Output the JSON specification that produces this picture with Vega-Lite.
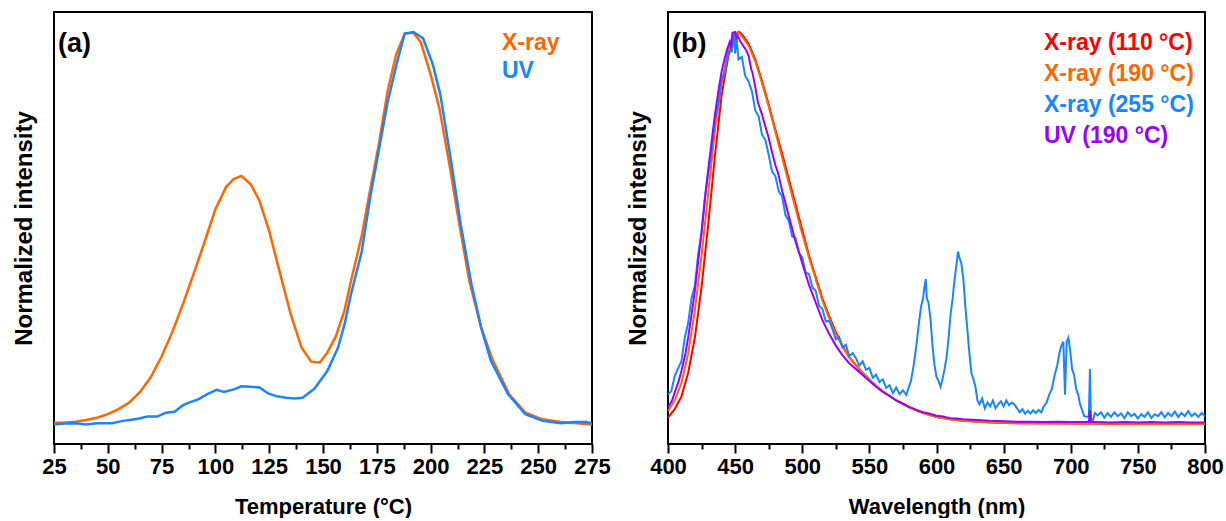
{
"$schema": "https://vega.github.io/schema/vega-lite/v6.json",
"padding": {"left": 11, "top": 11, "right": 5, "bottom": 0},
"config": {
  "font": "Liberation Sans",
  "view": {"stroke": "#000000", "strokeWidth": 2},
  "axis": {"grid": false, "domain": false, "labelFont": "Liberation Sans", "labelFontSize": 22, "labelFontWeight": "bold", "labelColor": "#000000", "titleFont": "Liberation Sans", "titleFontSize": 22, "titleFontWeight": "bold", "titleColor": "#000000", "tickColor": "#000000", "tickWidth": 2},
  "axisY": {"titleFontSize": 24},
  "legend": {"labelFont": "Liberation Sans", "labelFontSize": 23, "labelFontWeight": "bold", "symbolOpacity": 0, "symbolSize": 0, "symbolStrokeWidth": 0, "labelOffset": 0, "title": null}
},
"datasets": {
  "tl": [
    {"s":"X-ray","T":25,"v":0.003},{"s":"X-ray","T":30,"v":0.004},{"s":"X-ray","T":35,"v":0.006},{"s":"X-ray","T":40,"v":0.01},{"s":"X-ray","T":45,"v":0.016},{"s":"X-ray","T":50,"v":0.025},{"s":"X-ray","T":55,"v":0.038},{"s":"X-ray","T":60,"v":0.055},{"s":"X-ray","T":65,"v":0.082},{"s":"X-ray","T":70,"v":0.12},{"s":"X-ray","T":75,"v":0.172},{"s":"X-ray","T":80,"v":0.235},{"s":"X-ray","T":85,"v":0.307},{"s":"X-ray","T":90,"v":0.385},{"s":"X-ray","T":95,"v":0.465},{"s":"X-ray","T":100,"v":0.548},{"s":"X-ray","T":105,"v":0.605},{"s":"X-ray","T":108.5,"v":0.625},{"s":"X-ray","T":112,"v":0.633},{"s":"X-ray","T":116.5,"v":0.611},{"s":"X-ray","T":120.5,"v":0.569},{"s":"X-ray","T":125,"v":0.492},{"s":"X-ray","T":130,"v":0.385},{"s":"X-ray","T":135,"v":0.28},{"s":"X-ray","T":140,"v":0.195},{"s":"X-ray","T":144.5,"v":0.159},{"s":"X-ray","T":148.5,"v":0.157},{"s":"X-ray","T":152,"v":0.182},{"s":"X-ray","T":156,"v":0.224},{"s":"X-ray","T":160,"v":0.29},{"s":"X-ray","T":163,"v":0.365},{"s":"X-ray","T":168,"v":0.48},{"s":"X-ray","T":172,"v":0.6},{"s":"X-ray","T":176,"v":0.715},{"s":"X-ray","T":180,"v":0.849},{"s":"X-ray","T":184,"v":0.943},{"s":"X-ray","T":188,"v":0.996},{"s":"X-ray","T":192,"v":0.998},{"s":"X-ray","T":195.5,"v":0.973},{"s":"X-ray","T":200,"v":0.892},{"s":"X-ray","T":204,"v":0.807},{"s":"X-ray","T":208.5,"v":0.67},{"s":"X-ray","T":213,"v":0.52},{"s":"X-ray","T":218,"v":0.365},{"s":"X-ray","T":223.5,"v":0.246},{"s":"X-ray","T":229,"v":0.161},{"s":"X-ray","T":236.5,"v":0.076},{"s":"X-ray","T":244,"v":0.029},{"s":"X-ray","T":252,"v":0.012},{"s":"X-ray","T":260.5,"v":0.005},{"s":"X-ray","T":268,"v":0.002},{"s":"X-ray","T":275,"v":-0.001},
    {"s":"UV","T":25,"v":-0.001},{"s":"UV","T":30,"v":0.001},{"s":"UV","T":35,"v":0.002},{"s":"UV","T":40,"v":-0.001},{"s":"UV","T":45,"v":0.002},{"s":"UV","T":52,"v":0.002},{"s":"UV","T":57,"v":0.008},{"s":"UV","T":61,"v":0.011},{"s":"UV","T":64.5,"v":0.014},{"s":"UV","T":68.5,"v":0.019},{"s":"UV","T":73,"v":0.019},{"s":"UV","T":77,"v":0.029},{"s":"UV","T":81,"v":0.031},{"s":"UV","T":85,"v":0.048},{"s":"UV","T":88,"v":0.055},{"s":"UV","T":92,"v":0.063},{"s":"UV","T":96.5,"v":0.077},{"s":"UV","T":100.5,"v":0.087},{"s":"UV","T":104,"v":0.082},{"s":"UV","T":109,"v":0.089},{"s":"UV","T":112,"v":0.096},{"s":"UV","T":116,"v":0.095},{"s":"UV","T":120.5,"v":0.093},{"s":"UV","T":124.5,"v":0.078},{"s":"UV","T":129,"v":0.07},{"s":"UV","T":133,"v":0.067},{"s":"UV","T":137,"v":0.065},{"s":"UV","T":140.5,"v":0.067},{"s":"UV","T":146,"v":0.09},{"s":"UV","T":152,"v":0.135},{"s":"UV","T":157,"v":0.195},{"s":"UV","T":160,"v":0.254},{"s":"UV","T":163,"v":0.331},{"s":"UV","T":168,"v":0.44},{"s":"UV","T":172,"v":0.58},{"s":"UV","T":176,"v":0.7},{"s":"UV","T":180,"v":0.82},{"s":"UV","T":184.5,"v":0.925},{"s":"UV","T":188,"v":0.996},{"s":"UV","T":192,"v":1.0},{"s":"UV","T":196.5,"v":0.984},{"s":"UV","T":201,"v":0.918},{"s":"UV","T":204.5,"v":0.841},{"s":"UV","T":209.5,"v":0.671},{"s":"UV","T":214,"v":0.509},{"s":"UV","T":219,"v":0.356},{"s":"UV","T":223.5,"v":0.246},{"s":"UV","T":228,"v":0.161},{"s":"UV","T":236,"v":0.076},{"s":"UV","T":244,"v":0.025},{"s":"UV","T":252,"v":0.008},{"s":"UV","T":260.5,"v":0.002},{"s":"UV","T":267,"v":0.005},{"s":"UV","T":272.5,"v":0.005},{"s":"UV","T":275,"v":0.001}
  ],
  "pl": [
    {"s":"X-ray (110 °C)","w":400,"v":0.016},{"s":"X-ray (110 °C)","w":405,"v":0.038},{"s":"X-ray (110 °C)","w":410,"v":0.07},{"s":"X-ray (110 °C)","w":415,"v":0.13},{"s":"X-ray (110 °C)","w":420,"v":0.22},{"s":"X-ray (110 °C)","w":425,"v":0.35},{"s":"X-ray (110 °C)","w":430,"v":0.51},{"s":"X-ray (110 °C)","w":435,"v":0.685},{"s":"X-ray (110 °C)","w":440,"v":0.84},{"s":"X-ray (110 °C)","w":445,"v":0.94},{"s":"X-ray (110 °C)","w":450,"v":0.99},{"s":"X-ray (110 °C)","w":453,"v":1.0},{"s":"X-ray (110 °C)","w":456,"v":0.99},{"s":"X-ray (110 °C)","w":460,"v":0.97},{"s":"X-ray (110 °C)","w":465,"v":0.93},{"s":"X-ray (110 °C)","w":470,"v":0.875},{"s":"X-ray (110 °C)","w":475,"v":0.815},{"s":"X-ray (110 °C)","w":480,"v":0.75},{"s":"X-ray (110 °C)","w":485,"v":0.69},{"s":"X-ray (110 °C)","w":490,"v":0.625},{"s":"X-ray (110 °C)","w":495,"v":0.56},{"s":"X-ray (110 °C)","w":500,"v":0.495},{"s":"X-ray (110 °C)","w":505,"v":0.43},{"s":"X-ray (110 °C)","w":510,"v":0.375},{"s":"X-ray (110 °C)","w":515,"v":0.32},{"s":"X-ray (110 °C)","w":520,"v":0.275},{"s":"X-ray (110 °C)","w":525,"v":0.235},{"s":"X-ray (110 °C)","w":530,"v":0.2},{"s":"X-ray (110 °C)","w":535,"v":0.17},{"s":"X-ray (110 °C)","w":540,"v":0.15},{"s":"X-ray (110 °C)","w":545,"v":0.13},{"s":"X-ray (110 °C)","w":550,"v":0.113},{"s":"X-ray (110 °C)","w":555,"v":0.097},{"s":"X-ray (110 °C)","w":560,"v":0.083},{"s":"X-ray (110 °C)","w":570,"v":0.06},{"s":"X-ray (110 °C)","w":580,"v":0.042},{"s":"X-ray (110 °C)","w":590,"v":0.028},{"s":"X-ray (110 °C)","w":600,"v":0.018},{"s":"X-ray (110 °C)","w":610,"v":0.012},{"s":"X-ray (110 °C)","w":620,"v":0.008},{"s":"X-ray (110 °C)","w":640,"v":0.004},{"s":"X-ray (110 °C)","w":660,"v":0.002},{"s":"X-ray (110 °C)","w":700,"v":0.001},{"s":"X-ray (110 °C)","w":750,"v":0},{"s":"X-ray (110 °C)","w":800,"v":0},
    {"s":"X-ray (190 °C)","w":400,"v":0.033},{"s":"X-ray (190 °C)","w":405,"v":0.06},{"s":"X-ray (190 °C)","w":410,"v":0.105},{"s":"X-ray (190 °C)","w":415,"v":0.18},{"s":"X-ray (190 °C)","w":420,"v":0.29},{"s":"X-ray (190 °C)","w":425,"v":0.43},{"s":"X-ray (190 °C)","w":430,"v":0.59},{"s":"X-ray (190 °C)","w":435,"v":0.75},{"s":"X-ray (190 °C)","w":440,"v":0.87},{"s":"X-ray (190 °C)","w":445,"v":0.955},{"s":"X-ray (190 °C)","w":450,"v":0.995},{"s":"X-ray (190 °C)","w":452,"v":1.0},{"s":"X-ray (190 °C)","w":456,"v":0.985},{"s":"X-ray (190 °C)","w":460,"v":0.965},{"s":"X-ray (190 °C)","w":465,"v":0.925},{"s":"X-ray (190 °C)","w":470,"v":0.87},{"s":"X-ray (190 °C)","w":475,"v":0.81},{"s":"X-ray (190 °C)","w":480,"v":0.745},{"s":"X-ray (190 °C)","w":485,"v":0.68},{"s":"X-ray (190 °C)","w":490,"v":0.615},{"s":"X-ray (190 °C)","w":495,"v":0.55},{"s":"X-ray (190 °C)","w":500,"v":0.485},{"s":"X-ray (190 °C)","w":505,"v":0.425},{"s":"X-ray (190 °C)","w":510,"v":0.37},{"s":"X-ray (190 °C)","w":515,"v":0.315},{"s":"X-ray (190 °C)","w":520,"v":0.27},{"s":"X-ray (190 °C)","w":525,"v":0.23},{"s":"X-ray (190 °C)","w":530,"v":0.197},{"s":"X-ray (190 °C)","w":535,"v":0.17},{"s":"X-ray (190 °C)","w":540,"v":0.15},{"s":"X-ray (190 °C)","w":545,"v":0.13},{"s":"X-ray (190 °C)","w":550,"v":0.113},{"s":"X-ray (190 °C)","w":555,"v":0.097},{"s":"X-ray (190 °C)","w":560,"v":0.083},{"s":"X-ray (190 °C)","w":570,"v":0.06},{"s":"X-ray (190 °C)","w":580,"v":0.042},{"s":"X-ray (190 °C)","w":590,"v":0.028},{"s":"X-ray (190 °C)","w":600,"v":0.018},{"s":"X-ray (190 °C)","w":610,"v":0.012},{"s":"X-ray (190 °C)","w":620,"v":0.008},{"s":"X-ray (190 °C)","w":640,"v":0.004},{"s":"X-ray (190 °C)","w":660,"v":0.002},{"s":"X-ray (190 °C)","w":700,"v":0.001},{"s":"X-ray (190 °C)","w":750,"v":0},{"s":"X-ray (190 °C)","w":800,"v":0},
    {"s":"X-ray (255 °C)","w":400,"v":0.075},{"s":"X-ray (255 °C)","w":402.5,"v":0.084},{"s":"X-ray (255 °C)","w":405,"v":0.122},{"s":"X-ray (255 °C)","w":407.5,"v":0.142},{"s":"X-ray (255 °C)","w":410,"v":0.16},{"s":"X-ray (255 °C)","w":412.5,"v":0.221},{"s":"X-ray (255 °C)","w":415,"v":0.257},{"s":"X-ray (255 °C)","w":417.5,"v":0.321},{"s":"X-ray (255 °C)","w":420,"v":0.352},{"s":"X-ray (255 °C)","w":422.5,"v":0.434},{"s":"X-ray (255 °C)","w":425,"v":0.488},{"s":"X-ray (255 °C)","w":427.5,"v":0.577},{"s":"X-ray (255 °C)","w":430,"v":0.641},{"s":"X-ray (255 °C)","w":432.5,"v":0.696},{"s":"X-ray (255 °C)","w":435,"v":0.78},{"s":"X-ray (255 °C)","w":437.5,"v":0.815},{"s":"X-ray (255 °C)","w":440,"v":0.878},{"s":"X-ray (255 °C)","w":442.5,"v":0.899},{"s":"X-ray (255 °C)","w":445,"v":0.952},{"s":"X-ray (255 °C)","w":447.5,"v":0.95},{"s":"X-ray (255 °C)","w":449,"v":1.0},{"s":"X-ray (255 °C)","w":450,"v":0.945},{"s":"X-ray (255 °C)","w":451,"v":0.99},{"s":"X-ray (255 °C)","w":452.5,"v":0.93},{"s":"X-ray (255 °C)","w":455,"v":0.936},{"s":"X-ray (255 °C)","w":457.5,"v":0.888},{"s":"X-ray (255 °C)","w":460,"v":0.874},{"s":"X-ray (255 °C)","w":462.5,"v":0.849},{"s":"X-ray (255 °C)","w":465,"v":0.8},{"s":"X-ray (255 °C)","w":467.5,"v":0.785},{"s":"X-ray (255 °C)","w":470,"v":0.738},{"s":"X-ray (255 °C)","w":472.5,"v":0.725},{"s":"X-ray (255 °C)","w":475,"v":0.687},{"s":"X-ray (255 °C)","w":477.5,"v":0.644},{"s":"X-ray (255 °C)","w":480,"v":0.632},{"s":"X-ray (255 °C)","w":482.5,"v":0.593},{"s":"X-ray (255 °C)","w":485,"v":0.581},{"s":"X-ray (255 °C)","w":487.5,"v":0.533},{"s":"X-ray (255 °C)","w":490,"v":0.518},{"s":"X-ray (255 °C)","w":492.5,"v":0.478},{"s":"X-ray (255 °C)","w":495,"v":0.474},{"s":"X-ray (255 °C)","w":497.5,"v":0.436},{"s":"X-ray (255 °C)","w":500,"v":0.425},{"s":"X-ray (255 °C)","w":502.5,"v":0.386},{"s":"X-ray (255 °C)","w":505,"v":0.383},{"s":"X-ray (255 °C)","w":507.5,"v":0.349},{"s":"X-ray (255 °C)","w":510,"v":0.34},{"s":"X-ray (255 °C)","w":512.5,"v":0.302},{"s":"X-ray (255 °C)","w":515,"v":0.294},{"s":"X-ray (255 °C)","w":517.5,"v":0.262},{"s":"X-ray (255 °C)","w":520,"v":0.263},{"s":"X-ray (255 °C)","w":522.5,"v":0.242},{"s":"X-ray (255 °C)","w":525,"v":0.216},{"s":"X-ray (255 °C)","w":527.5,"v":0.222},{"s":"X-ray (255 °C)","w":530,"v":0.195},{"s":"X-ray (255 °C)","w":532.5,"v":0.202},{"s":"X-ray (255 °C)","w":535,"v":0.173},{"s":"X-ray (255 °C)","w":537.5,"v":0.181},{"s":"X-ray (255 °C)","w":540,"v":0.168},{"s":"X-ray (255 °C)","w":542.5,"v":0.149},{"s":"X-ray (255 °C)","w":545,"v":0.16},{"s":"X-ray (255 °C)","w":547.5,"v":0.138},{"s":"X-ray (255 °C)","w":550,"v":0.143},{"s":"X-ray (255 °C)","w":552.5,"v":0.118},{"s":"X-ray (255 °C)","w":555,"v":0.126},{"s":"X-ray (255 °C)","w":557.5,"v":0.107},{"s":"X-ray (255 °C)","w":560,"v":0.114},{"s":"X-ray (255 °C)","w":562.5,"v":0.092},{"s":"X-ray (255 °C)","w":565,"v":0.099},{"s":"X-ray (255 °C)","w":567.5,"v":0.079},{"s":"X-ray (255 °C)","w":570,"v":0.093},{"s":"X-ray (255 °C)","w":572.5,"v":0.076},{"s":"X-ray (255 °C)","w":575,"v":0.086},{"s":"X-ray (255 °C)","w":577.5,"v":0.074},{"s":"X-ray (255 °C)","w":579,"v":0.09},{"s":"X-ray (255 °C)","w":581,"v":0.11},{"s":"X-ray (255 °C)","w":583,"v":0.15},{"s":"X-ray (255 °C)","w":585,"v":0.2},{"s":"X-ray (255 °C)","w":587,"v":0.26},{"s":"X-ray (255 °C)","w":588.5,"v":0.3},{"s":"X-ray (255 °C)","w":590,"v":0.32},{"s":"X-ray (255 °C)","w":591,"v":0.35},{"s":"X-ray (255 °C)","w":592,"v":0.37},{"s":"X-ray (255 °C)","w":592.8,"v":0.32},{"s":"X-ray (255 °C)","w":594,"v":0.31},{"s":"X-ray (255 °C)","w":595.5,"v":0.27},{"s":"X-ray (255 °C)","w":597,"v":0.2},{"s":"X-ray (255 °C)","w":598.5,"v":0.15},{"s":"X-ray (255 °C)","w":600,"v":0.12},{"s":"X-ray (255 °C)","w":601.5,"v":0.11},{"s":"X-ray (255 °C)","w":603,"v":0.095},{"s":"X-ray (255 °C)","w":604.5,"v":0.115},{"s":"X-ray (255 °C)","w":606,"v":0.14},{"s":"X-ray (255 °C)","w":607.5,"v":0.17},{"s":"X-ray (255 °C)","w":609,"v":0.22},{"s":"X-ray (255 °C)","w":610.5,"v":0.28},{"s":"X-ray (255 °C)","w":612,"v":0.32},{"s":"X-ray (255 °C)","w":613.5,"v":0.37},{"s":"X-ray (255 °C)","w":615,"v":0.41},{"s":"X-ray (255 °C)","w":616,"v":0.44},{"s":"X-ray (255 °C)","w":617,"v":0.425},{"s":"X-ray (255 °C)","w":618.5,"v":0.41},{"s":"X-ray (255 °C)","w":620,"v":0.37},{"s":"X-ray (255 °C)","w":621.5,"v":0.3},{"s":"X-ray (255 °C)","w":623,"v":0.24},{"s":"X-ray (255 °C)","w":624.5,"v":0.18},{"s":"X-ray (255 °C)","w":626,"v":0.13},{"s":"X-ray (255 °C)","w":627.5,"v":0.115},{"s":"X-ray (255 °C)","w":629,"v":0.095},{"s":"X-ray (255 °C)","w":630.5,"v":0.06},{"s":"X-ray (255 °C)","w":632,"v":0.05},{"s":"X-ray (255 °C)","w":634,"v":0.065},{"s":"X-ray (255 °C)","w":636,"v":0.04},{"s":"X-ray (255 °C)","w":638,"v":0.055},{"s":"X-ray (255 °C)","w":640,"v":0.045},{"s":"X-ray (255 °C)","w":642,"v":0.06},{"s":"X-ray (255 °C)","w":644,"v":0.04},{"s":"X-ray (255 °C)","w":646,"v":0.05},{"s":"X-ray (255 °C)","w":648,"v":0.058},{"s":"X-ray (255 °C)","w":650,"v":0.045},{"s":"X-ray (255 °C)","w":652,"v":0.06},{"s":"X-ray (255 °C)","w":654,"v":0.048},{"s":"X-ray (255 °C)","w":656,"v":0.055},{"s":"X-ray (255 °C)","w":658,"v":0.05},{"s":"X-ray (255 °C)","w":660,"v":0.04},{"s":"X-ray (255 °C)","w":662,"v":0.03},{"s":"X-ray (255 °C)","w":664,"v":0.038},{"s":"X-ray (255 °C)","w":666,"v":0.026},{"s":"X-ray (255 °C)","w":668,"v":0.034},{"s":"X-ray (255 °C)","w":670,"v":0.027},{"s":"X-ray (255 °C)","w":672,"v":0.035},{"s":"X-ray (255 °C)","w":674,"v":0.028},{"s":"X-ray (255 °C)","w":676,"v":0.036},{"s":"X-ray (255 °C)","w":678,"v":0.03},{"s":"X-ray (255 °C)","w":680,"v":0.045},{"s":"X-ray (255 °C)","w":682,"v":0.055},{"s":"X-ray (255 °C)","w":684,"v":0.075},{"s":"X-ray (255 °C)","w":686,"v":0.09},{"s":"X-ray (255 °C)","w":688,"v":0.125},{"s":"X-ray (255 °C)","w":690,"v":0.15},{"s":"X-ray (255 °C)","w":691.5,"v":0.18},{"s":"X-ray (255 °C)","w":693,"v":0.2},{"s":"X-ray (255 °C)","w":694.5,"v":0.21},{"s":"X-ray (255 °C)","w":695.7,"v":0.075},{"s":"X-ray (255 °C)","w":697,"v":0.21},{"s":"X-ray (255 °C)","w":698.2,"v":0.22},{"s":"X-ray (255 °C)","w":699.5,"v":0.19},{"s":"X-ray (255 °C)","w":701,"v":0.14},{"s":"X-ray (255 °C)","w":702.5,"v":0.125},{"s":"X-ray (255 °C)","w":704,"v":0.09},{"s":"X-ray (255 °C)","w":705.5,"v":0.075},{"s":"X-ray (255 °C)","w":707,"v":0.05},{"s":"X-ray (255 °C)","w":708.5,"v":0.035},{"s":"X-ray (255 °C)","w":710,"v":0.02},{"s":"X-ray (255 °C)","w":712,"v":0.018},{"s":"X-ray (255 °C)","w":713.5,"v":0.02},{"s":"X-ray (255 °C)","w":714.3,"v":0.14},{"s":"X-ray (255 °C)","w":715,"v":0.012},{"s":"X-ray (255 °C)","w":716.5,"v":0.01},{"s":"X-ray (255 °C)","w":718,"v":0.028},{"s":"X-ray (255 °C)","w":720,"v":0.022},{"s":"X-ray (255 °C)","w":722.5,"v":0.03},{"s":"X-ray (255 °C)","w":725,"v":0.016},{"s":"X-ray (255 °C)","w":727.5,"v":0.028},{"s":"X-ray (255 °C)","w":730,"v":0.018},{"s":"X-ray (255 °C)","w":732.5,"v":0.03},{"s":"X-ray (255 °C)","w":735,"v":0.02},{"s":"X-ray (255 °C)","w":737.5,"v":0.027},{"s":"X-ray (255 °C)","w":740,"v":0.015},{"s":"X-ray (255 °C)","w":742.5,"v":0.03},{"s":"X-ray (255 °C)","w":745,"v":0.02},{"s":"X-ray (255 °C)","w":747.5,"v":0.026},{"s":"X-ray (255 °C)","w":750,"v":0.014},{"s":"X-ray (255 °C)","w":752.5,"v":0.025},{"s":"X-ray (255 °C)","w":755,"v":0.018},{"s":"X-ray (255 °C)","w":757.5,"v":0.03},{"s":"X-ray (255 °C)","w":760,"v":0.015},{"s":"X-ray (255 °C)","w":762.5,"v":0.025},{"s":"X-ray (255 °C)","w":765,"v":0.02},{"s":"X-ray (255 °C)","w":767.5,"v":0.03},{"s":"X-ray (255 °C)","w":770,"v":0.017},{"s":"X-ray (255 °C)","w":772.5,"v":0.028},{"s":"X-ray (255 °C)","w":775,"v":0.02},{"s":"X-ray (255 °C)","w":777.5,"v":0.032},{"s":"X-ray (255 °C)","w":780,"v":0.018},{"s":"X-ray (255 °C)","w":782.5,"v":0.028},{"s":"X-ray (255 °C)","w":785,"v":0.02},{"s":"X-ray (255 °C)","w":787.5,"v":0.033},{"s":"X-ray (255 °C)","w":790,"v":0.02},{"s":"X-ray (255 °C)","w":792.5,"v":0.027},{"s":"X-ray (255 °C)","w":795,"v":0.018},{"s":"X-ray (255 °C)","w":797.5,"v":0.028},{"s":"X-ray (255 °C)","w":800,"v":0.02},
    {"s":"UV (190 °C)","w":400,"v":0.042},{"s":"UV (190 °C)","w":403,"v":0.06},{"s":"UV (190 °C)","w":405,"v":0.08},{"s":"UV (190 °C)","w":408,"v":0.11},{"s":"UV (190 °C)","w":410,"v":0.135},{"s":"UV (190 °C)","w":413,"v":0.18},{"s":"UV (190 °C)","w":415,"v":0.22},{"s":"UV (190 °C)","w":418,"v":0.29},{"s":"UV (190 °C)","w":420,"v":0.34},{"s":"UV (190 °C)","w":423,"v":0.43},{"s":"UV (190 °C)","w":425,"v":0.49},{"s":"UV (190 °C)","w":428,"v":0.59},{"s":"UV (190 °C)","w":430,"v":0.65},{"s":"UV (190 °C)","w":433,"v":0.735},{"s":"UV (190 °C)","w":435,"v":0.79},{"s":"UV (190 °C)","w":438,"v":0.86},{"s":"UV (190 °C)","w":440,"v":0.9},{"s":"UV (190 °C)","w":442,"v":0.93},{"s":"UV (190 °C)","w":444,"v":0.955},{"s":"UV (190 °C)","w":446,"v":0.975},{"s":"UV (190 °C)","w":447,"v":0.96},{"s":"UV (190 °C)","w":448,"v":0.998},{"s":"UV (190 °C)","w":450,"v":1.0},{"s":"UV (190 °C)","w":451,"v":0.985},{"s":"UV (190 °C)","w":452,"v":0.99},{"s":"UV (190 °C)","w":454,"v":0.975},{"s":"UV (190 °C)","w":456,"v":0.965},{"s":"UV (190 °C)","w":458,"v":0.955},{"s":"UV (190 °C)","w":460,"v":0.94},{"s":"UV (190 °C)","w":462,"v":0.905},{"s":"UV (190 °C)","w":463,"v":0.895},{"s":"UV (190 °C)","w":465,"v":0.86},{"s":"UV (190 °C)","w":467,"v":0.82},{"s":"UV (190 °C)","w":470,"v":0.79},{"s":"UV (190 °C)","w":472,"v":0.765},{"s":"UV (190 °C)","w":475,"v":0.73},{"s":"UV (190 °C)","w":477,"v":0.7},{"s":"UV (190 °C)","w":480,"v":0.66},{"s":"UV (190 °C)","w":482,"v":0.64},{"s":"UV (190 °C)","w":485,"v":0.595},{"s":"UV (190 °C)","w":487,"v":0.57},{"s":"UV (190 °C)","w":490,"v":0.53},{"s":"UV (190 °C)","w":492,"v":0.505},{"s":"UV (190 °C)","w":495,"v":0.465},{"s":"UV (190 °C)","w":497,"v":0.445},{"s":"UV (190 °C)","w":500,"v":0.41},{"s":"UV (190 °C)","w":505,"v":0.355},{"s":"UV (190 °C)","w":510,"v":0.31},{"s":"UV (190 °C)","w":515,"v":0.265},{"s":"UV (190 °C)","w":520,"v":0.23},{"s":"UV (190 °C)","w":525,"v":0.2},{"s":"UV (190 °C)","w":530,"v":0.175},{"s":"UV (190 °C)","w":535,"v":0.155},{"s":"UV (190 °C)","w":540,"v":0.14},{"s":"UV (190 °C)","w":545,"v":0.125},{"s":"UV (190 °C)","w":550,"v":0.11},{"s":"UV (190 °C)","w":555,"v":0.095},{"s":"UV (190 °C)","w":560,"v":0.082},{"s":"UV (190 °C)","w":565,"v":0.072},{"s":"UV (190 °C)","w":570,"v":0.06},{"s":"UV (190 °C)","w":575,"v":0.052},{"s":"UV (190 °C)","w":580,"v":0.043},{"s":"UV (190 °C)","w":585,"v":0.036},{"s":"UV (190 °C)","w":590,"v":0.03},{"s":"UV (190 °C)","w":595,"v":0.026},{"s":"UV (190 °C)","w":600,"v":0.021},{"s":"UV (190 °C)","w":605,"v":0.019},{"s":"UV (190 °C)","w":610,"v":0.015},{"s":"UV (190 °C)","w":615,"v":0.014},{"s":"UV (190 °C)","w":620,"v":0.012},{"s":"UV (190 °C)","w":630,"v":0.01},{"s":"UV (190 °C)","w":640,"v":0.008},{"s":"UV (190 °C)","w":650,"v":0.007},{"s":"UV (190 °C)","w":660,"v":0.006},{"s":"UV (190 °C)","w":670,"v":0.006},{"s":"UV (190 °C)","w":680,"v":0.005},{"s":"UV (190 °C)","w":690,"v":0.006},{"s":"UV (190 °C)","w":700,"v":0.005},{"s":"UV (190 °C)","w":710,"v":0.005},{"s":"UV (190 °C)","w":713.5,"v":0.005},{"s":"UV (190 °C)","w":714.3,"v":0.035},{"s":"UV (190 °C)","w":715,"v":0.005},{"s":"UV (190 °C)","w":720,"v":0.005},{"s":"UV (190 °C)","w":730,"v":0.004},{"s":"UV (190 °C)","w":740,"v":0.005},{"s":"UV (190 °C)","w":750,"v":0.004},{"s":"UV (190 °C)","w":760,"v":0.005},{"s":"UV (190 °C)","w":770,"v":0.004},{"s":"UV (190 °C)","w":780,"v":0.005},{"s":"UV (190 °C)","w":790,"v":0.004},{"s":"UV (190 °C)","w":800,"v":0.004}
  ]
},
"hconcat": [
  {
    "width": 538, "height": 432,
    "data": {"name": "tl"},
    "title": {"text": "(a)", "anchor": "start", "frame": "group", "fontSize": 27, "fontWeight": "bold", "color": "#000000", "offset": -46, "dx": 4, "baseline": "top"},
    "mark": {"type": "line", "strokeWidth": 2.5, "clip": true},
    "encoding": {
      "x": {"field": "T", "type": "quantitative", "scale": {"domain": [25, 275], "nice": false, "zero": false},
        "axis": {"title": "Temperature (°C)", "values": [25,37.5,50,62.5,75,87.5,100,112.5,125,137.5,150,162.5,175,187.5,200,212.5,225,237.5,250,262.5,275],
          "labelExpr": "datum.value % 25 === 0 ? datum.label : ''",
          "tickSize": {"condition": {"test": "datum.value % 25 === 0", "value": 9}, "value": 5},
          "labelPadding": 3, "titlePadding": 19, "labelFlush": false, "labelOverlap": false}},
      "y": {"field": "v", "type": "quantitative", "scale": {"domain": [-0.051, 1.051], "nice": false, "zero": false},
        "axis": {"title": "Normalized intensity", "labels": false, "ticks": false, "titlePadding": 18}},
      "color": {"field": "s", "type": "nominal", "sort": null, "scale": {"domain": ["X-ray", "UV"], "range": ["#ff6600", "#1a85ff"]},
        "legend": {"orient": "none", "legendX": 425, "legendY": 19, "rowPadding": 4,
          "encode": {"labels": {"update": {"fill": {"signal": "datum.value === 'X-ray' ? '#ff6600' : '#1a85ff'"}}}}}}
    }
  },
  {
    "width": 537, "height": 432,
    "data": {"name": "pl"},
    "title": {"text": "(b)", "anchor": "start", "frame": "group", "fontSize": 27, "fontWeight": "bold", "color": "#000000", "offset": -46, "dx": 4, "baseline": "top"},
    "mark": {"type": "line", "strokeWidth": 2, "clip": true},
    "encoding": {
      "x": {"field": "w", "type": "quantitative", "scale": {"domain": [400, 800], "nice": false, "zero": false},
        "axis": {"title": "Wavelength (nm)", "values": [400,425,450,475,500,525,550,575,600,625,650,675,700,725,750,775,800],
          "labelExpr": "datum.value % 50 === 0 ? datum.label : ''",
          "tickSize": {"condition": {"test": "datum.value % 50 === 0", "value": 9}, "value": 5},
          "labelPadding": 3, "titlePadding": 19, "labelFlush": false, "labelOverlap": false}},
      "y": {"field": "v", "type": "quantitative", "scale": {"domain": [-0.051, 1.051], "nice": false, "zero": false},
        "axis": {"title": "Normalized intensity", "labels": false, "ticks": false, "titlePadding": 18}},
      "color": {"field": "s", "type": "nominal", "sort": null, "scale": {"domain": ["X-ray (110 °C)", "X-ray (190 °C)", "X-ray (255 °C)", "UV (190 °C)"], "range": ["#ff0000", "#ff6600", "#1a85ff", "#9900ff"]},
        "legend": {"orient": "none", "legendX": 353, "legendY": 19, "rowPadding": 7,
          "encode": {"labels": {"update": {"fill": {"signal": "datum.value === 'X-ray (110 °C)' ? '#ff0000' : datum.value === 'X-ray (190 °C)' ? '#ff6600' : datum.value === 'X-ray (255 °C)' ? '#1a85ff' : '#9900ff'"}}}}}}
    }
  }
],
"spacing": 76,
"bounds": "flush",
"resolve": {"scale": {"color": "independent"}, "legend": {"color": "independent"}}
}
